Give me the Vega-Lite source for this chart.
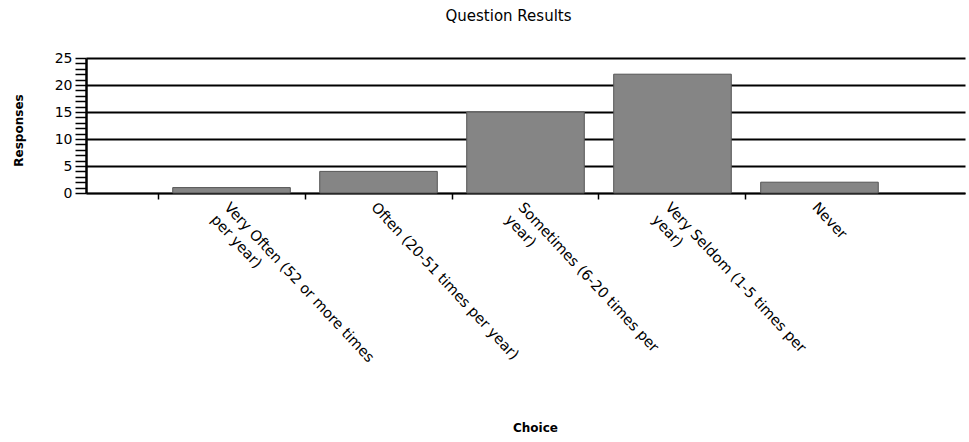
{
  "$schema": "https://vega.github.io/schema/vega-lite/v6.json",
  "width": 879,
  "height": 135,
  "autosize": "none",
  "padding": {"left": 86, "top": 58, "right": 4, "bottom": 249},
  "background": "white",
  "title": {"text": "Question Results", "fontSize": 15, "fontWeight": "normal", "font": "DejaVu Sans", "color": "black", "anchor": "middle", "frame": "group", "offset": 27, "dx": -17},
  "data": {"values": [
    {"choice": "Very Often (52 or more times per year)", "responses": 1},
    {"choice": "Often (20-51 times per year)", "responses": 4},
    {"choice": "Sometimes (6-20 times per year)", "responses": 15},
    {"choice": "Very Seldom (1-5 times per year)", "responses": 22},
    {"choice": "Never", "responses": 2}
  ]},
  "mark": {"type": "bar", "fill": "#858585", "stroke": "#555555", "strokeWidth": 1},
  "encoding": {
    "x": {
      "field": "choice", "type": "nominal", "sort": null,
      "scale": {"paddingInner": 0.2, "paddingOuter": 0.59},
      "axis": {
        "title": "Choice", "titleFontWeight": "bold", "titleFontSize": 12, "titleColor": "black",
        "titleX": 449, "titleY": 234, "titleBaseline": "middle", "titleAlign": "center",
        "labelAngle": 47, "labelAlign": "left", "labelBaseline": "top",
        "labelFontSize": 14.5, "labelColor": "black", "labelLimit": 0, "labelOverlap": false, "labelBound": false,
        "labelLineHeight": 18,
        "labelExpr": "datum.value == 'Very Often (52 or more times per year)' ? ['Very Often (52 or more times', 'per year)'] : datum.value == 'Sometimes (6-20 times per year)' ? ['Sometimes (6-20 times per', 'year)'] : datum.value == 'Very Seldom (1-5 times per year)' ? ['Very Seldom (1-5 times per', 'year)'] : datum.label",
        "bandPosition": -0.125, "labelPadding": 1,
        "tickSize": 6, "tickColor": "black", "tickWidth": 1.5,
        "domainColor": "black", "domainWidth": 1.5, "grid": false
      }
    },
    "y": {
      "field": "responses", "type": "quantitative",
      "scale": {"domain": [0, 25], "nice": false},
      "axis": {
        "title": "Responses", "titleFontWeight": "bold", "titleFontSize": 12, "titleColor": "black",
        "titleX": -68, "titleY": 72, "titleAngle": -90, "titleBaseline": "middle", "titleAlign": "center",
        "values": [0,1,2,3,4,5,6,7,8,9,10,11,12,13,14,15,16,17,18,19,20,21,22,23,24,25],
        "labelExpr": "datum.value % 5 === 0 ? datum.label : ''",
        "labelFontSize": 14, "labelColor": "black", "labelPadding": 3,
        "tickSize": 11, "tickColor": "black", "tickWidth": 1.5,
        "domainColor": "black", "domainWidth": 2.5,
        "grid": true, "gridColor": "black", "gridWidth": 1.8,
        "gridOpacity": {"condition": {"test": "datum.value % 5 === 0", "value": 1}, "value": 0}
      }
    }
  },
  "config": {
    "font": "DejaVu Sans",
    "view": {"stroke": null}
  }
}
